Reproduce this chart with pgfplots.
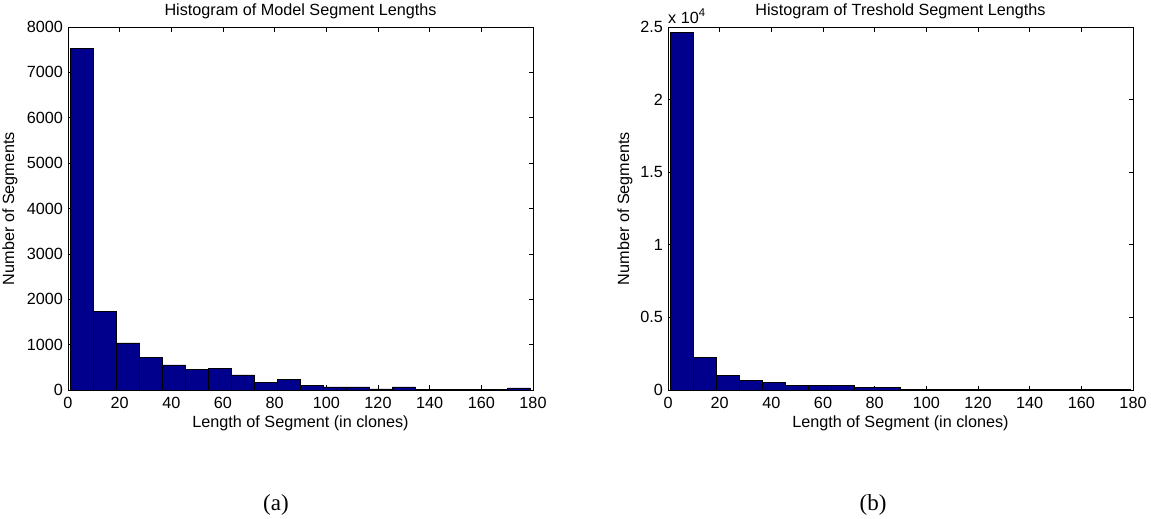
\documentclass[border=0pt]{standalone}
\usepackage{fontspec}
\setmainfont{Liberation Sans}
\newfontfamily\capserif{Liberation Serif}
\usepackage{pgfplots}
\pgfplotsset{compat=1.18}
\definecolor{matnavy}{RGB}{0,0,140}
\pgfplotsset{
  histax/.style={
    scale only axis,
    anchor=north west,
    width=465pt, height=363pt,
    xmin=0, xmax=180,
    ymin=0,
    xtick={0,20,...,180},
    tick pos=both,
    tick align=inside,
    major tick length=4.5pt,
    axis line style={line width=0.9pt},
    every tick/.style={black, line width=0.7pt},
    /pgf/number format/assume math mode=true,
    /pgf/number format/set thousands separator={},
    tick label style={font=\fontsize{16.2}{19}\selectfont},
    every x tick label/.style={anchor=north, inner sep=0pt, yshift=-7pt},
    every y tick label/.style={anchor=east, inner sep=0pt, xshift=-5pt},
    label style={font=\fontsize{16.2}{19}\selectfont},
    xlabel style={at={(axis description cs:0.5,-0.0909)}, anchor=center, inner sep=0pt},
    every axis title shift=0pt,
    title style={at={(axis description cs:0.5,1.044)}, anchor=center, inner sep=0pt, font=\fontsize{16.2}{19}\selectfont},
    scaled y ticks=false,
    xlabel={Length of Segment (in clones)},
    ylabel={Number of Segments},
  }
}
\begin{document}
\begin{tikzpicture}
\path[use as bounding box] (0,0) rectangle (1151pt,-519pt);
\begin{axis}[histax,
  at={(68pt,-27pt)},
  ymax=8000,
  ytick={0,1000,...,8000},
  ylabel style={at={(axis description cs:-0.125,0.5)}, anchor=center, rotate=0, inner sep=0pt},
  title={Histogram of Model Segment Lengths},
]
\addplot[ybar interval, fill=matnavy, draw=black, line width=0.8pt] coordinates {
(1,7520) (9.9,1740) (18.8,1037) (27.7,713) (36.6,551) (45.5,449) (54.4,471)
(63.3,331) (72.2,169) (81.1,228) (90,96) (98.9,66) (107.8,66) (116.7,22)
(125.6,66) (134.5,15) (143.4,12) (152.3,12) (161.2,15) (170.1,44) (179,44)};
\end{axis}
\begin{axis}[histax,
  at={(668pt,-27pt)},
  ymax=25000,
  ytick={0,5000,10000,15000,20000,25000},
  yticklabels={0,0.5,1,1.5,2,2.5},
  ylabel style={at={(axis description cs:-0.0925,0.5)}, anchor=center, rotate=0, inner sep=0pt},
  title={Histogram of Treshold Segment Lengths},
  clip=false,
]
\addplot[ybar interval, fill=matnavy, draw=black, line width=0.8pt] coordinates {
(1,24630) (9.9,2270) (18.8,995) (27.7,648) (36.6,509) (45.5,324) (54.4,324)
(63.3,324) (72.2,160) (81.1,150) (90,60) (98.9,50) (107.8,45) (116.7,40)
(125.6,35) (134.5,30) (143.4,30) (152.3,25) (161.2,25) (170.1,20) (179,20)};
\node[anchor=south west, inner sep=0pt, font=\fontsize{16.2}{19}\selectfont] at (rel axis cs:0,1.01) {x 10\textsuperscript{4}};
\end{axis}
\node[font=\capserif\fontsize{23}{26}\selectfont] at (276pt,-505pt) {(a)};
\node[font=\capserif\fontsize{23}{26}\selectfont] at (873pt,-505pt) {(b)};
\end{tikzpicture}
\end{document}
